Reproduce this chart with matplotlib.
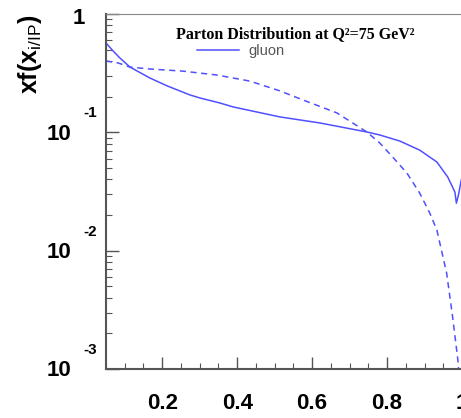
import numpy as np
import matplotlib
matplotlib.use('Agg')  # non-interactive backend for saving plots
import matplotlib.pyplot as plt
from matplotlib.ticker import FixedLocator, NullFormatter, LogLocator

plt.rcParams['font.family'] = ['Liberation Sans', 'DejaVu Sans']
plt.rcParams['mathtext.fontset'] = 'custom'
plt.rcParams['mathtext.rm'] = 'Liberation Sans'
plt.rcParams['mathtext.bf'] = 'Liberation Sans:bold'

# --- values ---
x_solid = [0.05, 0.069, 0.087, 0.114, 0.167, 0.213, 0.274, 0.301, 0.354, 0.389,
           0.514, 0.621, 0.746, 0.781, 0.834, 0.887, 0.933, 0.962, 0.981,
           0.985, 0.991, 0.997, 1.0]
g_solid = [0.569, 0.487, 0.425, 0.356, 0.288, 0.247, 0.207, 0.195, 0.177, 0.164,
           0.135, 0.120, 0.1007, 0.0949, 0.0844, 0.0708, 0.0561, 0.0419, 0.0313,
           0.0252, 0.030, 0.038, 0.042]

x_dash = [0.05, 0.083, 0.114, 0.167, 0.255, 0.346, 0.434, 0.514, 0.575,
          0.666, 0.746, 0.781, 0.815, 0.853, 0.887, 0.914, 0.933, 0.959,
          0.975, 0.989, 0.995]
g_dash = [0.401, 0.385, 0.356, 0.343, 0.329, 0.305, 0.271, 0.224, 0.188,
          0.146, 0.1007, 0.081, 0.0618, 0.0453, 0.0307, 0.0208, 0.0149, 0.00647,
          0.00275, 0.00119, 0.0007]

xticks = [0.2, 0.4, 0.6, 0.8, 1.0]
xticklabels = ['0.2', '0.4', '0.6', '0.8', '1']
ydecades = [-1, -2, -3]

blue = '#5050ff'
axcol = '#555555'

fig = plt.figure(figsize=(4.61, 4.18), dpi=100)
ax = fig.add_axes([106/461, 1 - 369/418, 356/461, 355/418])

line, = ax.plot(x_solid, g_solid, color=blue, lw=1.1, label='gluon')
ax.plot(x_dash, g_dash, color=blue, lw=1.1, dashes=(4, 3))

ax.set_yscale('log')
ax.set_xlim(0.05, 1.0)
ax.set_ylim(1e-3, 1)

# x axis: ROOT-style inward ticks
ax.xaxis.set_major_locator(FixedLocator(xticks))
ax.xaxis.set_minor_locator(FixedLocator(np.arange(0.05, 1.001, 0.05)))
ax.set_xticklabels(xticklabels, fontsize=16, fontweight='bold')
ax.tick_params(axis='x', which='major', direction='in', length=9, width=1, color=axcol, pad=17)
ax.tick_params(axis='x', which='minor', direction='in', length=4.5, width=0.8, color=axcol)

# y axis: labels drawn by hand as 10 with raised exponent
ax.yaxis.set_major_locator(LogLocator(base=10, numticks=10))
ax.yaxis.set_minor_locator(LogLocator(base=10, subs=np.arange(2, 10), numticks=10))
ax.yaxis.set_major_formatter(NullFormatter())
ax.yaxis.set_minor_formatter(NullFormatter())
ax.tick_params(axis='y', which='major', direction='in', length=9, width=1, color=axcol)
ax.tick_params(axis='y', which='minor', direction='in', length=4.5, width=0.8, color=axcol)

ax.annotate('1', xy=(0, 1), xycoords=('axes fraction', 'data'), xytext=(-27, -5),
            textcoords='offset pixels', ha='center', va='center', fontsize=16, fontweight='bold')
for k in ydecades:
    ax.annotate('10', xy=(0, 10.0**k), xycoords=('axes fraction', 'data'), xytext=(-47, -2),
                textcoords='offset pixels', ha='center', va='center', fontsize=16, fontweight='bold')
    ax.annotate(str(k), xy=(0, 10.0**k), xycoords=('axes fraction', 'data'), xytext=(-16, 19),
                textcoords='offset pixels', ha='center', va='center', fontsize=11, fontweight='bold')

for s in ['left', 'bottom']:
    ax.spines[s].set_color(axcol)
    ax.spines[s].set_linewidth(1.5)
ax.spines['top'].set_color('#888888')
ax.spines['top'].set_linewidth(0.8)
ax.spines['right'].set_visible(False)

fig.text(30/461, 1 - 14/418, r'$\mathbf{xf(x}_{\mathrm{i/IP}}\mathbf{)}$', rotation=90,
         ha='center', va='top', fontsize=18)

fig.text(295/461, 1 - 34/418, 'Parton Distribution at Q\u00b2=75 GeV\u00b2',
         family='Liberation Serif', fontweight='bold', fontsize=11.5, ha='center', va='center')

ax.legend(handles=[line], loc='center left', bbox_to_anchor=(197/461, 1 - 51/418),
          bbox_transform=fig.transFigure, frameon=False, fontsize=10.5,
          handlelength=2.9, handletextpad=0.6, borderpad=0, borderaxespad=0,
          labelcolor='#555555')

fig.savefig('out.png', dpi=100)
